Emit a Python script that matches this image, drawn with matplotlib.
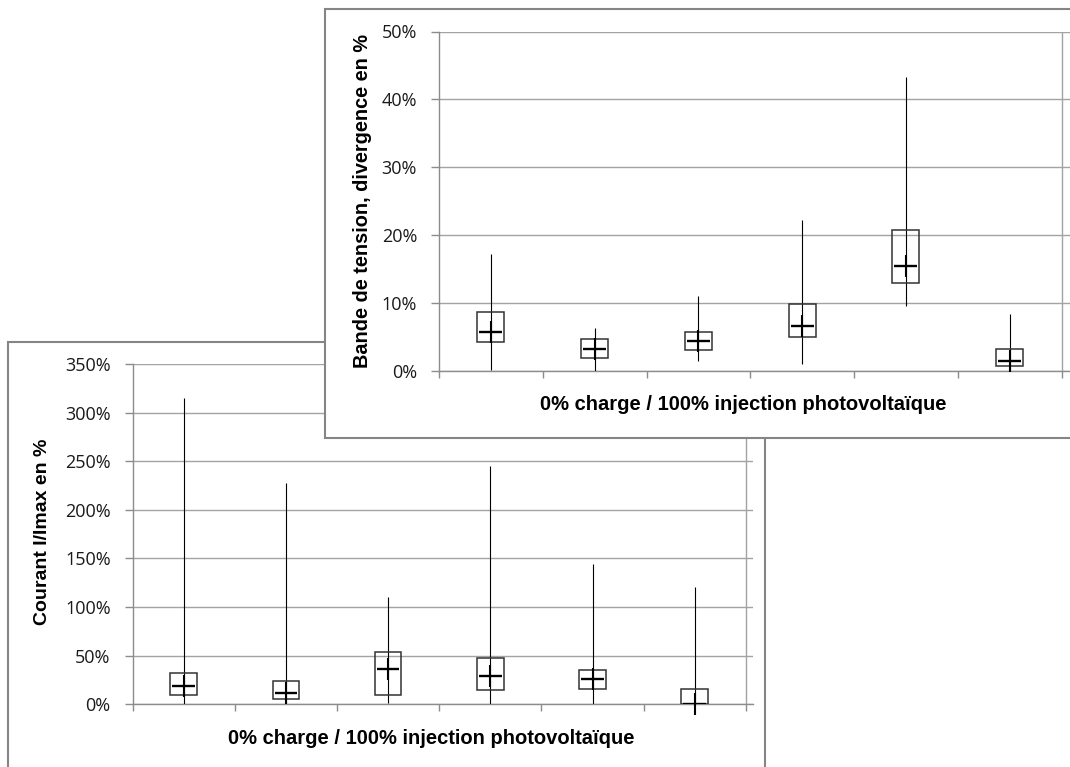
import matplotlib
matplotlib.use("Agg")
import matplotlib.pyplot as plt
from matplotlib.patches import Rectangle
import numpy as np

plt.rcParams['font.family'] = ['Open Sans', 'DejaVu Sans']

# six cases, values in %
categories = [1, 2, 3, 4, 5, 6]

# top chart : bande de tension
t_min = [0.2, 0.0, 1.5, 1.1, 9.6, 0.0]
t_q1 = [4.2, 1.9, 3.1, 5.0, 13.0, 0.8]
t_q3 = [8.7, 4.7, 5.8, 9.8, 20.8, 3.2]
t_mean = [5.8, 3.2, 4.4, 6.7, 15.5, 1.4]
t_max = [17.2, 6.4, 11.1, 22.3, 43.3, 8.4]

# back chart : courant I/Imax
c_min = [0.0, 0.0, 1.7, 0.0, 0.0, 0.0]
c_q1 = [9.2, 5.5, 9.2, 14.7, 15.4, 0.0]
c_q3 = [31.8, 24.3, 53.4, 47.3, 35.3, 15.4]
c_mean = [18.8, 12.0, 36.6, 29.5, 26.0, 0.5]
c_max = [315.0, 228.0, 110.6, 245.5, 144.5, 120.2]

xlabel = "0% charge / 100% injection photovoltaïque"

W, H = 1070, 767
fig = plt.figure(figsize=(W / 100, H / 100), dpi=100)

GRID = '#a3a3a3'
AXIS = '#8c8c8c'
FRAME = '#858585'


def box_chart(ax, lo, q1, q3, mean, hi, ymax, step, xmax):
    x = np.array(categories) - 0.5
    ax.vlines(x, lo, hi, color='black', lw=0.8, zorder=3)
    ax.bar(x, np.array(q3) - np.array(q1), bottom=q1, width=0.26,
           fill=False, edgecolor='#333333', linewidth=1.1, zorder=4)
    ax.hlines(mean, x - 0.11, x + 0.11, color='black', lw=1.7, zorder=5)
    ax.plot(x, mean, linestyle='none', marker='|', ms=16, mew=1.5,
            color='black', zorder=5, clip_on=False)
    ax.set_xlim(0, xmax)
    ax.set_ylim(0, ymax)
    ax.set_xticks(range(7))
    ax.set_xticklabels([])
    ax.set_yticks(np.arange(0, ymax + step / 2, step))
    ax.set_yticklabels(['%d%%' % v for v in np.arange(0, ymax + step / 2, step)])
    ax.yaxis.grid(True, color=GRID, lw=1.0)
    ax.set_axisbelow(True)
    ax.axvline(6, color=GRID, lw=1.0, zorder=1)
    for s in ['top', 'right']:
        ax.spines[s].set_visible(False)
    for s in ['left', 'bottom']:
        ax.spines[s].set_color(AXIS)
        ax.spines[s].set_linewidth(1.0)
    ax.tick_params(axis='x', length=5, color=AXIS, width=1.0)
    ax.tick_params(axis='y', length=5.8, color=AXIS, width=1.0, pad=10,
                   labelsize=13, labelcolor='#1a1a1a')
    ax.patch.set_alpha(0)


def fig_box(x0, y0, x1, y1):
    return (x0 / W, 1 - y1 / H, (x1 - x0) / W, (y1 - y0) / H)


# back chart frame + axes
l, b, w, h = fig_box(7.5, 342, 765, 790)
fig.patches.append(Rectangle((l, b), w, h, transform=fig.transFigure,
                             facecolor='white', edgecolor=FRAME, lw=1.5, zorder=0.1))
ax1 = fig.add_axes(fig_box(132.5, 364, 753, 704.3))
ax1.set_zorder(0.2)
box_chart(ax1, c_min, c_q1, c_q3, c_mean, c_max, 350, 50, 6.07)
fig.text(43 / W, 1 - 532 / H, "Courant I/Imax en %", rotation=90, ha='center',
         va='center', fontsize=14, fontweight='bold', family='Liberation Sans', zorder=0.25)
fig.text(431 / W, 1 - 738 / H, xlabel, ha='center', va='center', fontsize=14.5,
         fontweight='bold', family='Liberation Sans', zorder=0.25)

# front chart frame + axes
l, b, w, h = fig_box(325, 9, 1085, 438)
fig.patches.append(Rectangle((l, b), w, h, transform=fig.transFigure,
                             facecolor='white', edgecolor=FRAME, lw=1.5, zorder=0.3))
ax2 = fig.add_axes(fig_box(439, 31.5, 1075, 371))
ax2.set_zorder(0.4)
box_chart(ax2, t_min, t_q1, t_q3, t_mean, t_max, 50, 10, 6.13)
fig.text(362 / W, 1 - 201 / H, "Bande de tension, divergence en %", rotation=90,
         ha='center', va='center', fontsize=14.3, fontweight='bold',
         family='Liberation Sans', zorder=0.45)
fig.text(743 / W, 1 - 405 / H, xlabel, ha='center', va='center', fontsize=14.5,
         fontweight='bold', family='Liberation Sans', zorder=0.45)

fig.savefig('out.png', dpi=100)
